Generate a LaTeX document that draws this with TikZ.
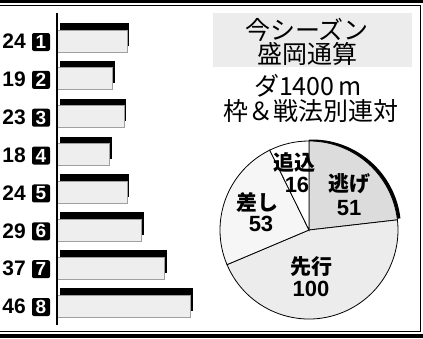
\documentclass[tikz,border=0pt]{standalone}
\usepackage{fontspec}
\setmainfont{Liberation Sans}
\newfontfamily\jp{Noto Sans CJK JP}
\definecolor{barfill}{HTML}{EEEEEE}
\definecolor{barline}{HTML}{A0A0A0}
\definecolor{titlefill}{HTML}{ECECEC}
\definecolor{nigefill}{HTML}{DCDCDC}
\definecolor{senkofill}{HTML}{ECECEC}
\definecolor{sashifill}{HTML}{F6F6F6}
\begin{document}
\begin{tikzpicture}[x=1pt,y=-1pt,
  numlab/.style={font=\bfseries\fontsize{21}{21}\selectfont, anchor=east, inner sep=0pt},
  numbox/.style={fill=black, rounded corners=2pt, minimum width=18pt, minimum height=18pt, inner sep=0pt, text=white, font=\bfseries\fontsize{19}{19}\selectfont},
  barbox/.style={draw=barline, line width=0.9pt, fill=barfill, anchor=north west, inner sep=0pt, minimum height=22pt},
  titletxt/.style={font=\jp\fontsize{25}{25}\selectfont, inner sep=0pt},
  pielab/.style={font=\jp\bfseries\fontsize{21}{21}\selectfont, inner sep=0pt},
  pienum/.style={font=\bfseries\fontsize{22}{22}\selectfont, inner sep=0pt},
  slice/.style={draw=black, line width=0.8pt}]
\useasboundingbox (0,0) rectangle (423,338);
% frame
\fill[black] (0,0) rectangle (423,3.3);
\fill[black] (0,334.3) rectangle (423,338);
\coordinate (ftl) at (0,5.5);
\coordinate (ftr) at (420,5.5);
\coordinate (fbr) at (420,331);
\coordinate (fbl) at (0,331);
\draw[line width=1pt] (ftl) -- (ftr) -- (fbr) -- (fbl);
% bars
\foreach \v [count=\i] in {24,19,23,18,24,29,37,46} {
  \pgfmathsetmacro\yc{40.5+37.86*(\i-1)}
  \pgfmathsetmacro\w{2.9*\v}
  \fill[black] (60,\yc-17.5) rectangle (59.5+\w,\yc+5);
  \node[barbox, minimum width=\w pt] (bar\i) at (57,\yc-11) {};
  \node[numbox] (box\i) at (41,\yc+1.5) {\i};
  \node[numlab] (num\i) at (26,\yc+1) {\v};
}
\coordinate (axtop) at (57,13);
\coordinate (axbot) at (57,325);
\draw[line width=1.5pt] (axtop) -- (axbot);
% title
\fill[titlefill] (213,13) rectangle (412,67);
\node[titletxt] (t1) at (307,30) {今シーズン};
\node[titletxt] (t2) at (307,54) {盛岡通算};
\node[titletxt] (t3) at (308,86) {ダ1400\,m};
\node[titletxt] (t4) at (311,111) {枠＆戦法別連対};
% pie
\begin{scope}[shift={(309,230)}, yscale=-1]
  \fill[black] (3,1.5) -- ++(6.5455:89) arc[start angle=6.5455, end angle=92, radius=89] -- cycle;
  \filldraw[slice, fill=nigefill] (0,0) -- (6.5455:89) arc[start angle=6.5455, end angle=90, radius=89] -- cycle;
  \filldraw[slice, fill=senkofill] (0,0) -- (-157.091:89) arc[start angle=-157.091, end angle=6.5455, radius=89] -- cycle;
  \filldraw[slice, fill=sashifill] (0,0) -- (116.182:89) arc[start angle=116.182, end angle=202.909, radius=89] -- cycle;
  \filldraw[slice, fill=white] (0,0) -- (90:89) arc[start angle=90, end angle=116.182, radius=89] -- cycle;
\end{scope}
\node[pielab] (l1) at (349,184) {逃げ};
\node[pienum] (n1) at (349,208) {51};
\node[pielab] (l2) at (311,267) {先行};
\node[pienum] (n2) at (311,289) {100};
\node[pielab] (l3) at (257,202) {差し};
\node[pienum] (n3) at (261,224) {53};
\node[pielab] (l4) at (294,162.5) {追込};
\node[pienum] (n4) at (297,185) {16};
\end{tikzpicture}
\end{document}
